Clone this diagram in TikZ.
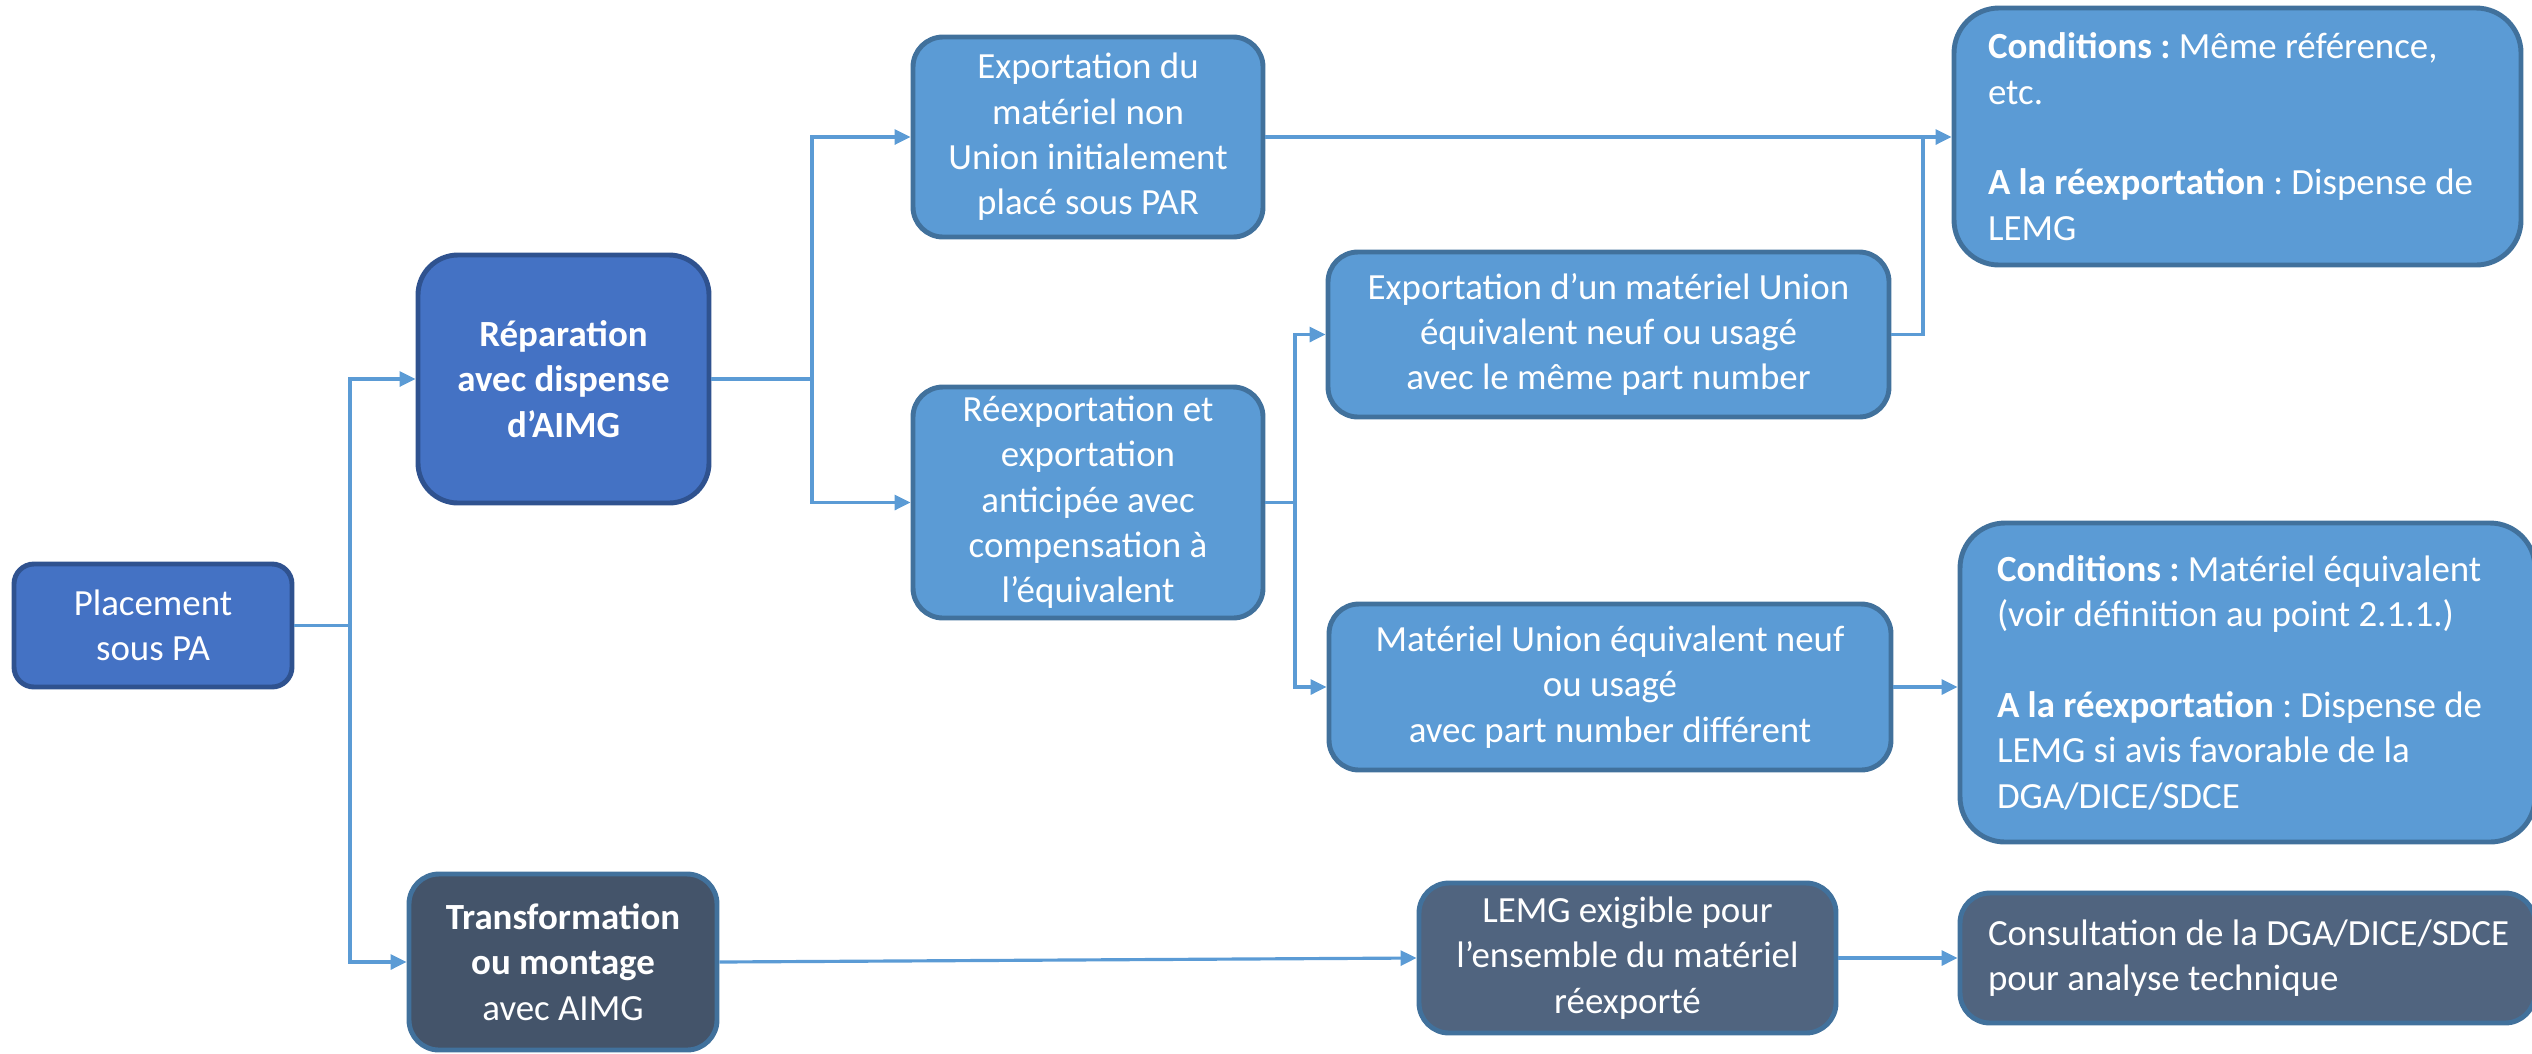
\documentclass[tikz,border=0pt]{standalone}
\usepackage{fontspec}
\setmainfont{Carlito}
\usepackage{xcolor}
\usetikzlibrary{arrows.meta, positioning}
\definecolor{paleblue}{HTML}{5B9BD5}
\definecolor{paleedge}{HTML}{41719C}
\definecolor{deepblue}{HTML}{4472C4}
\definecolor{deepedge}{HTML}{2F528F}
\definecolor{slate}{HTML}{44546A}
\definecolor{slatelight}{HTML}{50647F}
\frenchspacing
\newcommand{\flushtext}[3]{\hspace{#1}\begin{minipage}{#2}\raggedright #3\end{minipage}}

\begin{document}
\begin{tikzpicture}[
        box/.style={rectangle, rounded corners=0.3cm, draw=paleedge, line width=1.4pt, fill=paleblue,
            text=white, align=center, inner sep=2pt, font=\fontsize{10.5}{12.9}\selectfont},
        mainbox/.style={box, draw=deepedge, fill=deepblue},
        darkbox/.style={box, fill=slate},
        greybox/.style={box, fill=slatelight},
        notebox/.style={box, rounded corners=0.45cm, inner xsep=0pt},
        line/.style={draw=paleblue, line width=0.9pt},
        arrow/.style={line, -{Triangle[length=0.16cm, width=0.15cm]}}
    ]
        \useasboundingbox (0,0) rectangle (25.32,-10.53);

        \node[mainbox, minimum width=2.78cm, minimum height=1.23cm, rounded corners=0.2cm] (place) at (1.53,-6.255) {Placement\\sous PA};
        \node[mainbox, minimum width=2.91cm, minimum height=2.48cm, rounded corners=0.4cm] (rep) at (5.635,-3.79) {\bfseries Réparation\\\bfseries avec dispense\\\bfseries d’AIMG};
        \node[darkbox, minimum width=3.08cm, minimum height=1.76cm] (transf) at (5.63,-9.62) {\textbf{Transformation}\\\textbf{ou montage}\\avec AIMG};

        \node[box, minimum width=3.5cm, minimum height=2.0cm] (expdu) at (10.88,-1.37) {Exportation du\\matériel non\\Union initialement\\placé sous PAR};
        \node[box, minimum width=3.5cm, minimum height=2.31cm] (reexp) at (10.88,-5.025) {Réexportation et\\exportation\\anticipée avec\\compensation à\\l’équivalent};

        \node[box, minimum width=5.61cm, minimum height=1.65cm] (expun) at (16.085,-3.345) {Exportation d’un matériel Union\\équivalent neuf ou usagé\\avec le même part number};
        \node[box, minimum width=5.62cm, minimum height=1.66cm] (matun) at (16.10,-6.87) {Matériel Union équivalent neuf\\ou usagé\\avec part number différent};
        \node[greybox, minimum width=4.17cm, minimum height=1.50cm] (lemg) at (16.275,-9.58) {LEMG exigible pour\\l’ensemble du matériel\\réexporté};

        \node[notebox, minimum width=5.67cm, minimum height=2.57cm] (cond1) at (22.375,-1.365)
            {\flushtext{0.26cm}{5.25cm}{\textbf{Conditions :} Même référence,\\etc.\\[12.9pt]\textbf{A la réexportation} : Dispense de\\LEMG}};
        \node[notebox, minimum width=5.75cm, minimum height=3.19cm] (cond2) at (22.475,-6.825)
            {\flushtext{0.29cm}{5.3cm}{\textbf{Conditions :} Matériel équivalent\\(voir définition au point 2.1.1.)\\[12.9pt]\textbf{A la réexportation} : Dispense de\\LEMG si avis favorable de la\\DGA/DICE/SDCE}};
        \node[greybox, minimum width=5.75cm, minimum height=1.30cm, inner xsep=0pt] (consult) at (22.475,-9.58)
            {\flushtext{0.16cm}{5.35cm}{Consultation de la DGA/DICE/SDCE\\pour analyse technique}};

        \coordinate (j1) at (3.50,-6.255);
        \coordinate (j2) at (8.12,-3.79);
        \coordinate (j3) at (12.95,-5.025);
        \coordinate (j4) at (19.23,-1.37);

        \draw[line] (place) -- (j1);
        \draw[arrow] (j1) |- (rep);
        \draw[arrow] (j1) |- (transf);
        \draw[line] (rep) -- (j2);
        \draw[arrow] (j2) |- (expdu);
        \draw[arrow] (j2) |- (reexp);
        \draw[line] (reexp) -- (j3);
        \draw[arrow] (j3) |- (expun);
        \draw[arrow] (j3) |- (matun);
        \draw[arrow] (expdu) -- (cond1.west |- expdu.east);
        \draw[line] (expun.east) -| (j4);
        \draw[arrow] (matun) -- (cond2.west |- matun.east);
        \draw[arrow] (transf.east) -- (lemg.west);
        \draw[arrow] (lemg) -- (consult);
    \end{tikzpicture}
\end{document}
